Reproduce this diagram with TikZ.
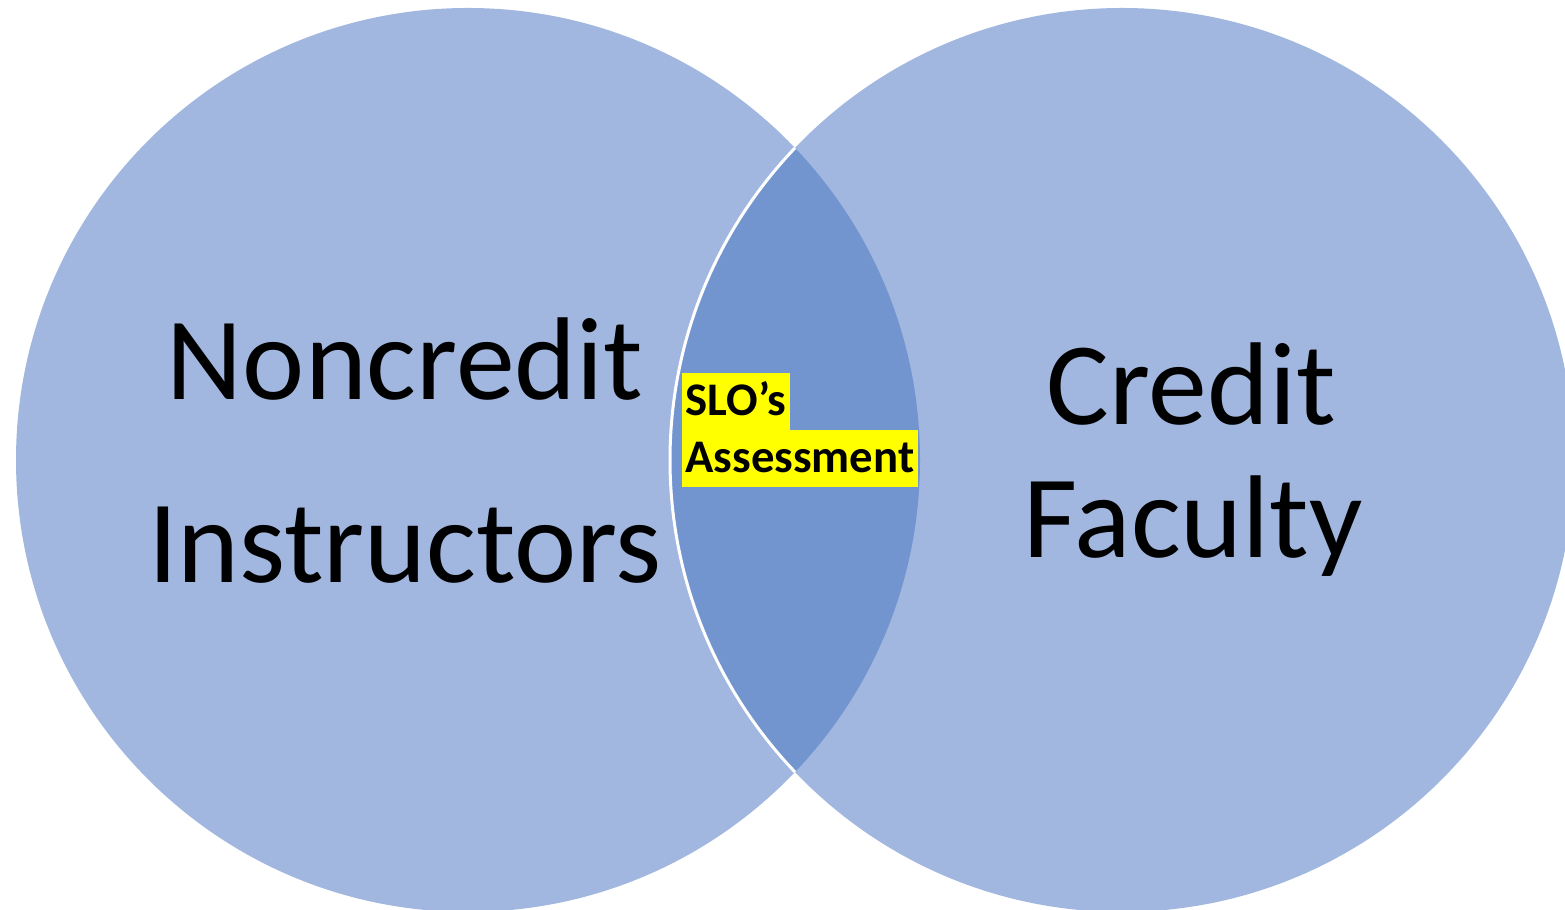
\documentclass[tikz,border=0pt]{standalone}
\usepackage{fontspec}
\setmainfont{Carlito}
\definecolor{setblue}{RGB}{161,183,223}
\definecolor{lensblue}{RGB}{114,149,208}
\definecolor{hlyellow}{RGB}{255,255,0}

\begin{document}
\begin{tikzpicture}[set/.style = {circle, fill=setblue, minimum size=9.04cm, inner sep=0pt, outer sep=0pt},
        big/.style = {anchor=base, font=\fontsize{33.5}{40}\selectfont},
        hl/.style = {fill=hlyellow, font=\bfseries\fontsize{13.3}{15}\selectfont, inner xsep=1pt, inner ysep=0pt, outer sep=0pt, text height=0.43cm, text depth=0.14cm}]
        \clip (0,0) rectangle (15.65,9.10);
        \fill[white] (0,0) rectangle (15.65,9.10);

        \node[set](noncredit) at (4.68,4.50){};
        \node[set](credit) at (11.22,4.50){};

        % overlap of the two sets
        \begin{scope}
          \clip (noncredit.center) circle (4.52);
          \fill[lensblue] (credit.center) circle (4.52);
          \draw[white, line width=0.03cm] (credit.center) circle (4.52);
        \end{scope}

        \node[big](n1) at (4.05,5.10){Noncredit};
        \node[big](n2) at (4.05,3.27){Instructors};
        \node[big](c1) at (11.91,4.85){Credit};
        \node[big](c2) at (11.93,3.52){Faculty};

        \node[hl, anchor=south west](slo) at (6.82,4.80){SLO’s};
        \node[hl, anchor=north west](assess) at (slo.south west){Assessment};
      \end{tikzpicture}
\end{document}
